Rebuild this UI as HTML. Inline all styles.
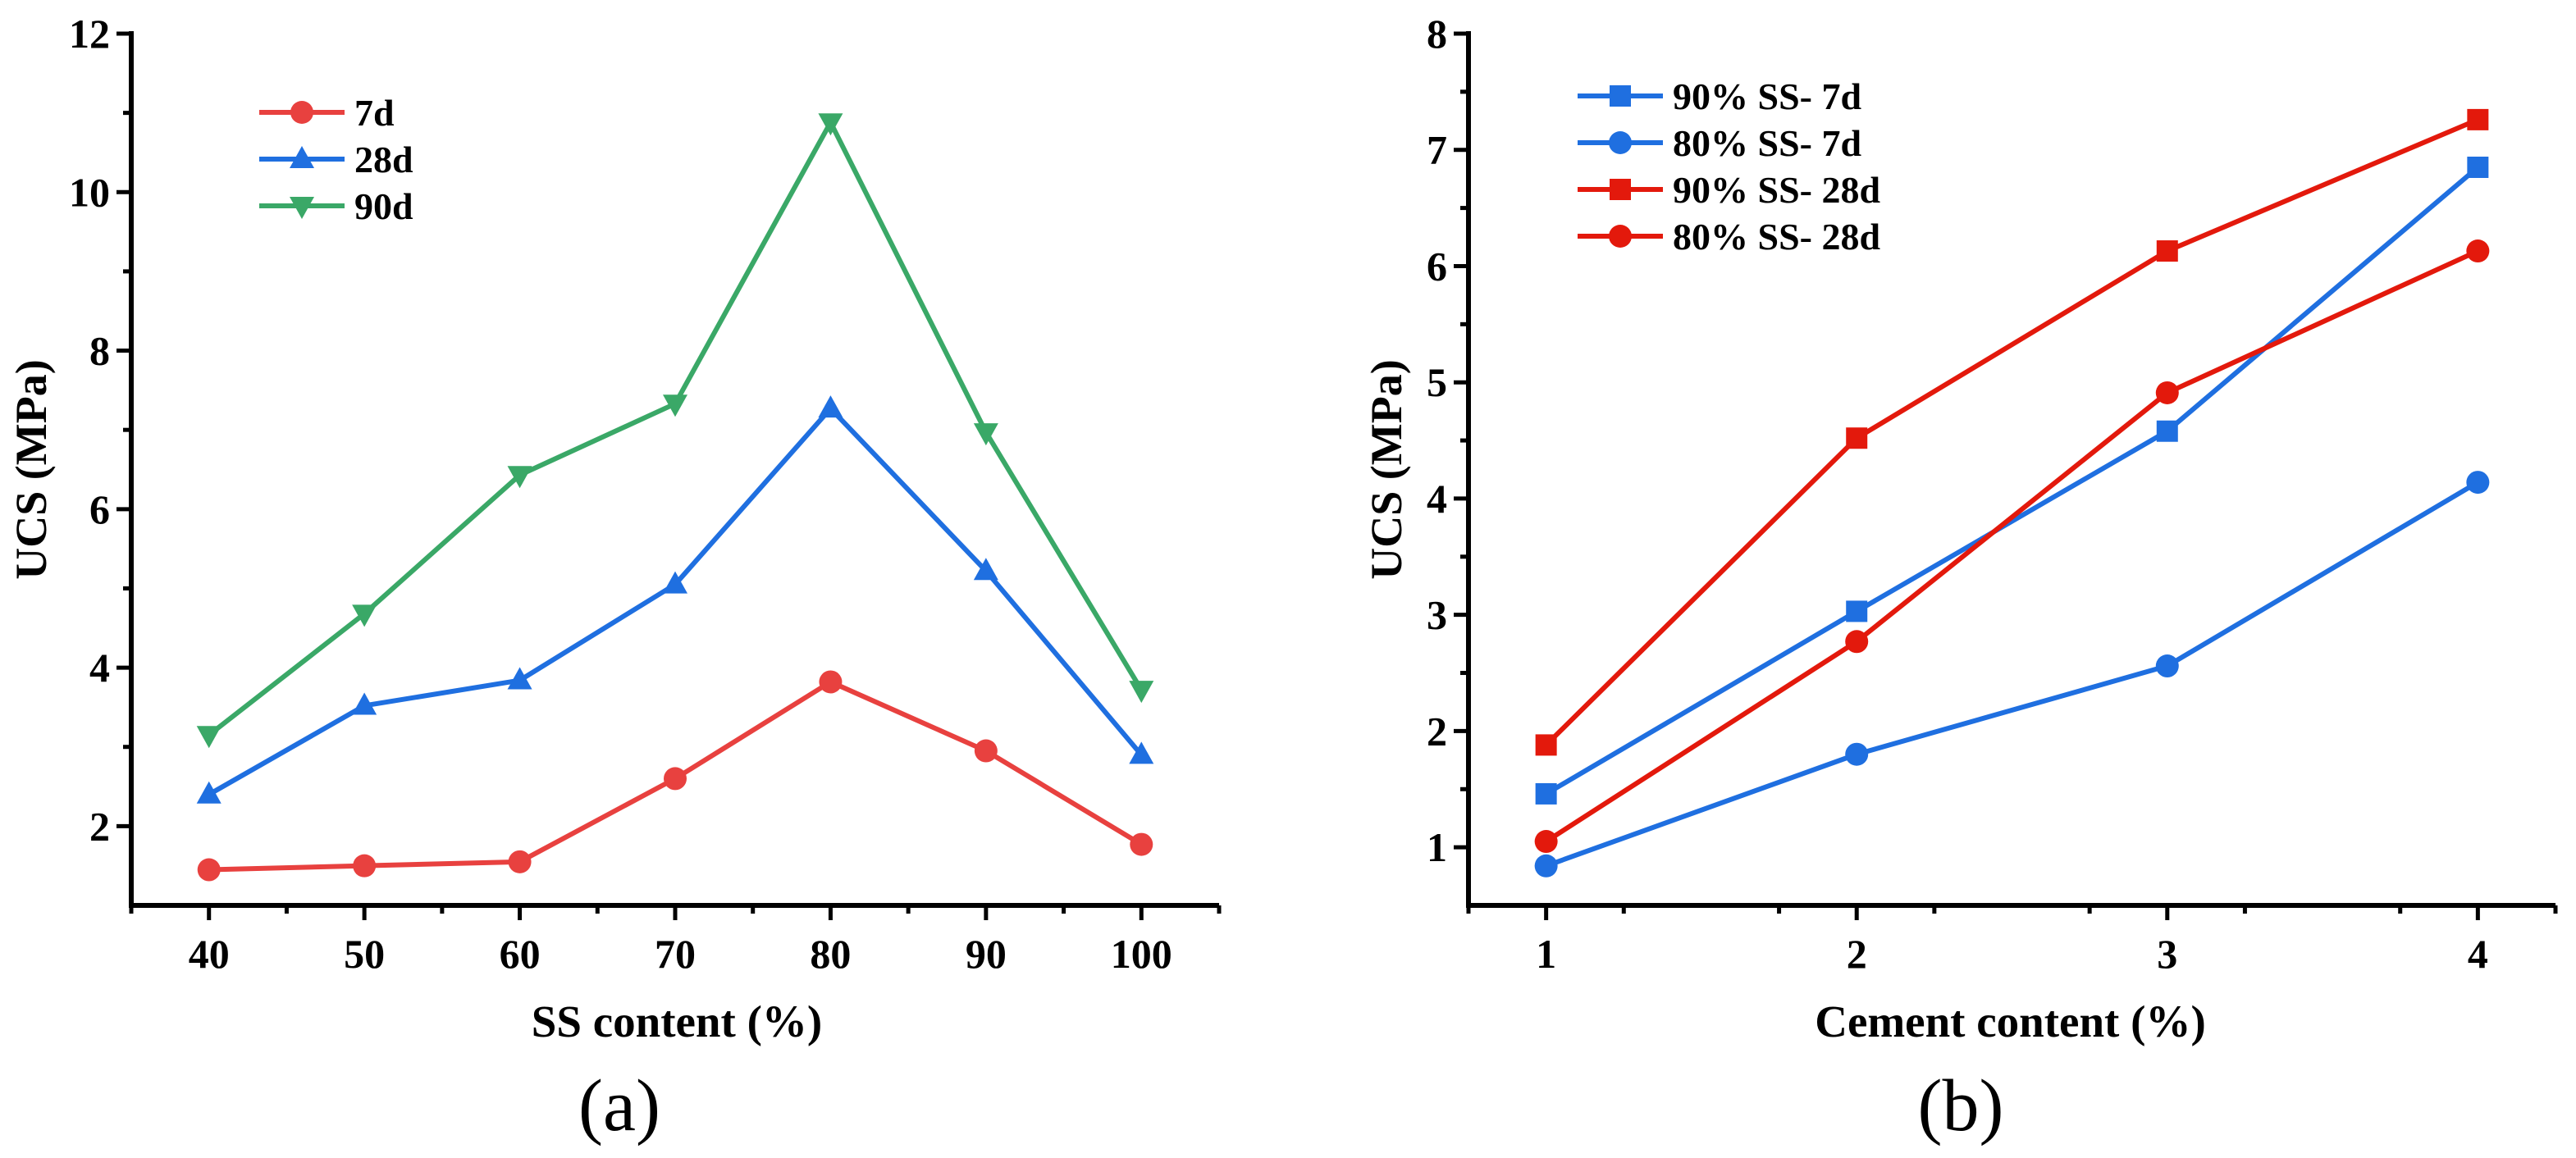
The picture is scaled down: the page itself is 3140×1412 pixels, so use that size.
<!DOCTYPE html>
<html><head><meta charset="utf-8"><style>
html,body{margin:0;padding:0;background:#fff;}
svg{display:block;font-family:"Liberation Serif",serif;}
</style></head><body>
<svg id="s" width="3140" height="1412" viewBox="0 0 3140 1412"></svg>
<script>
const aCategories=[40,50,60,70,80,90,100];
const a7d=[1.45,1.5,1.55,2.6,3.82,2.95,1.77];
const a28d=[2.4,3.52,3.84,5.05,7.27,5.22,2.9];
const a90d=[3.15,4.68,6.43,7.33,10.88,6.97,3.72];
const aYTicks=[2,4,6,8,10,12];
const bCategories=[1,2,3,4];
const b90_7=[1.46,3.03,4.58,6.85];
const b80_7=[0.84,1.8,2.56,4.14];
const b90_28=[1.88,4.52,6.13,7.26];
const b80_28=[1.05,2.77,4.91,6.13];
const bYTicks=[1,2,3,4,5,6,7,8];

const NS="http://www.w3.org/2000/svg";
const svg=document.getElementById('s');
function mk(tag,attrs,parent,txt){const e=document.createElementNS(NS,tag);for(const k in attrs)e.setAttribute(k,attrs[k]);if(txt!==undefined)e.textContent=txt;(parent||svg).appendChild(e);return e;}

function marker(g,type,x,y,c){
  let e;
  if(type==='circle'){e=mk('circle',{cx:x,cy:y,r:14,fill:c},g);}
  else if(type==='square'){e=mk('rect',{x:x-13,y:y-13,width:26,height:26,fill:c},g);}
  else if(type==='up'){e=mk('polygon',{points:`${x},${y-16} ${x-15},${y+11} ${x+15},${y+11}`,fill:c},g);}
  else {e=mk('polygon',{points:`${x},${y+16} ${x-15},${y-11} ${x+15},${y-11}`,fill:c},g);}
  
  
}

function chart(cfg){
  const g=mk('g',{});
  
  
  const X=v=>cfg.x0+(v-cfg.xmin)/(cfg.xmax-cfg.xmin)*(cfg.x1-cfg.x0);
  const Y=v=>cfg.y1-(v-cfg.ymin)/(cfg.ymax-cfg.ymin)*(cfg.y1-cfg.y0);
  const ax=mk('path',{d:`M${cfg.x0},${cfg.y0-3} L${cfg.x0},${cfg.y1} L${cfg.x1},${cfg.y1}`,stroke:'#000','stroke-width':6,fill:'none'},g);
  
  
  cfg.yticks.forEach(v=>{
    const y=Y(v);
    mk('line',{x1:cfg.x0-18,x2:cfg.x0,y1:y,y2:y,stroke:'#000','stroke-width':5},g);
    const t=mk('text',{x:cfg.x0-26,y:y+17,'text-anchor':'end','font-size':50,'font-weight':'bold'},g,v);
    
    
    const m=v-cfg.ystep/2;
    if(m>cfg.ymin){mk('line',{x1:cfg.x0-10,x2:cfg.x0,y1:Y(m),y2:Y(m),stroke:'#000','stroke-width':5},g);}
  });
  cfg.cats.forEach(v=>{
    const x=X(v);
    mk('line',{x1:x,x2:x,y1:cfg.y1,y2:cfg.y1+18,stroke:'#000','stroke-width':5},g);
    const t=mk('text',{x:x,y:cfg.y1+76,'text-anchor':'middle','font-size':50,'font-weight':'bold'},g,v);
    
    
  });
  for(let m=cfg.xmin;m<=cfg.xmax+1e-9;m+=cfg.xstep/2){
    if(!cfg.cats.some(c=>Math.abs(c-m)<1e-9)){mk('line',{x1:X(m),x2:X(m),y1:cfg.y1,y2:cfg.y1+10,stroke:'#000','stroke-width':5},g);}
  }
  const yt=mk('text',{x:0,y:0,transform:`translate(${cfg.ytx},${(cfg.y0+cfg.y1)/2}) rotate(-90)`,'text-anchor':'middle','font-size':54,'font-weight':'bold'},g,'UCS (MPa)');
  
  
  const xt=mk('text',{x:(cfg.x0+cfg.x1)/2+cfg.xtOff,y:1264,'text-anchor':'middle','font-size':55,'font-weight':'bold'},g,cfg.xtitle);
  
  
  const pl=mk('text',{x:cfg.panelX,y:1378,'text-anchor':'middle','font-size':90},g,cfg.panel);
  
  
  cfg.series.forEach((s,i)=>{
    const sg=mk('g',{},g);
    
    
    const pts=s.vals.map((v,j)=>X(cfg.cats[j])+','+Y(v)).join(' ');
    const pl=mk('polyline',{points:pts,fill:'none',stroke:s.color,'stroke-width':6,'stroke-linejoin':'round'},sg);
    
    
    s.vals.forEach((v,j)=>marker(sg,s.marker,X(cfg.cats[j]),Y(v),s.color));
    const ly=cfg.legY+i*cfg.legDy;
    const lg=mk('g',{},g);
    
    
    mk('line',{x1:cfg.legX,x2:cfg.legX+104,y1:ly,y2:ly,stroke:s.color,'stroke-width':6},lg);
    marker(lg,s.marker,cfg.legX+52,ly,s.color);
    mk('text',{x:cfg.legX+116,y:ly+16,'font-size':46,'font-weight':'bold'},lg,s.label);
  });
}

chart({name:'chart-a',x0:160,x1:1486,y0:41,y1:1104,xmin:35,xmax:105,ymin:1,ymax:12,ystep:2,xstep:10,
  cats:aCategories,yticks:aYTicks,ytx:56,xtitle:'SS content (%)',xtOff:2,panel:'(a)',panelX:755,
  legX:316,legY:137,legDy:57,
  series:[{label:'7d',vals:a7d,color:'#e8413f',marker:'circle'},
          {label:'28d',vals:a28d,color:'#1f6fe0',marker:'up'},
          {label:'90d',vals:a90d,color:'#3aa867',marker:'down'}]});

chart({name:'chart-b',x0:1790,x1:3115,y0:41,y1:1104,xmin:0.75,xmax:4.25,ymin:0.5,ymax:8,ystep:1,xstep:1,
  cats:bCategories,yticks:bYTicks,ytx:1708,xtitle:'Cement content (%)',xtOff:-2,panel:'(b)',panelX:2390,
  legX:1923,legY:117,legDy:57,
  series:[{label:'90% SS- 7d',vals:b90_7,color:'#1f6fe0',marker:'square'},
          {label:'80% SS- 7d',vals:b80_7,color:'#1f6fe0',marker:'circle'},
          {label:'90% SS- 28d',vals:b90_28,color:'#e3190c',marker:'square'},
          {label:'80% SS- 28d',vals:b80_28,color:'#e3190c',marker:'circle'}]});
</script>
</body></html>
